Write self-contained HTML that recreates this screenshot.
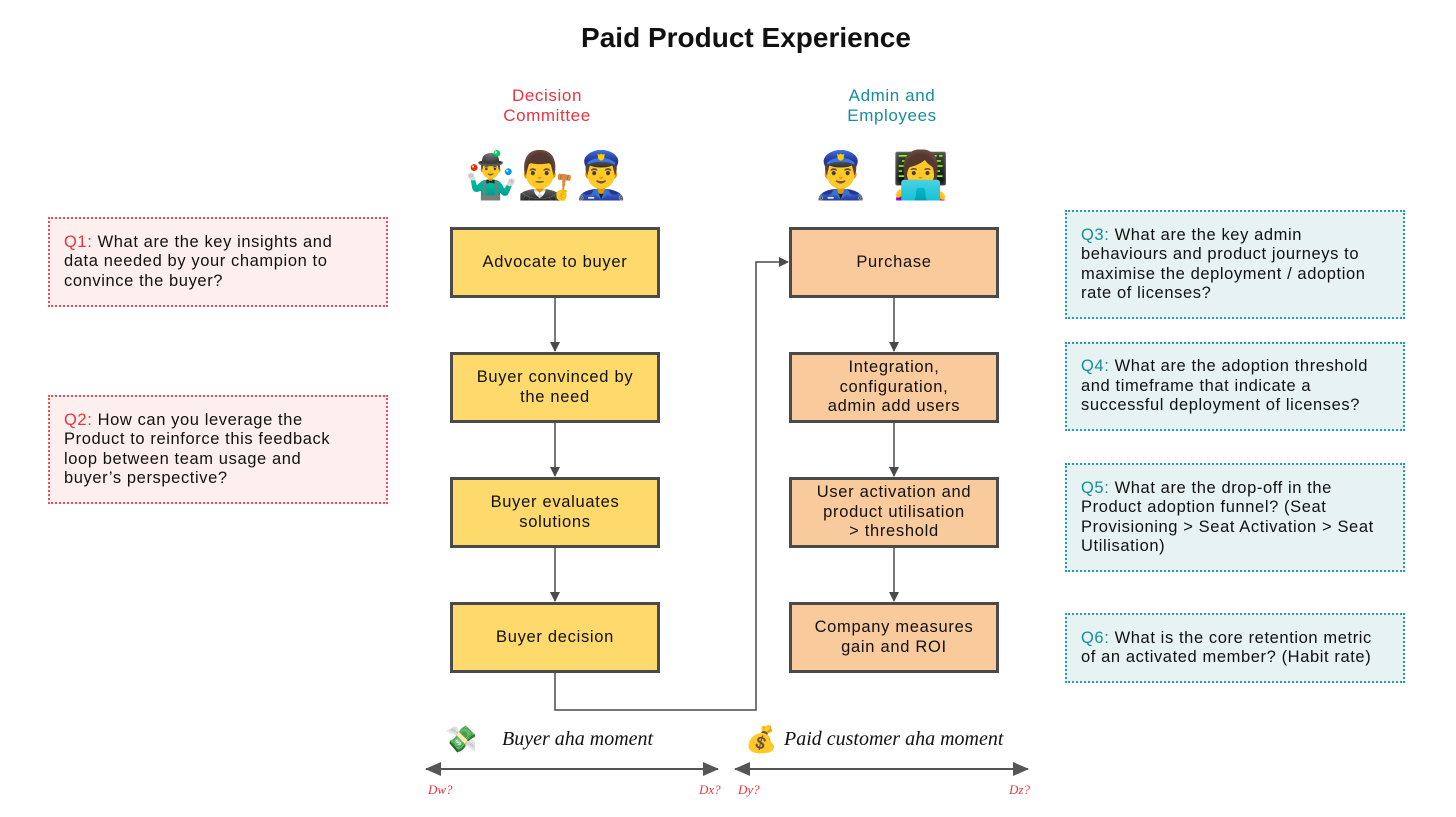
<!DOCTYPE html>
<html><head><meta charset="utf-8"><style>
body{margin:0;width:1456px;height:817px;background:#fff;position:relative;overflow:hidden;font-family:"Liberation Sans",sans-serif;color:#111}
.a{position:absolute}
.box{position:absolute;box-sizing:border-box;border:3px solid #4a4a4a;display:flex;align-items:center;justify-content:center;text-align:center;font-size:16.5px;letter-spacing:0.7px;line-height:19.5px}
.y{background:#fed96b;left:450px;width:210px;height:71px}
.p{background:#f9cb9c;left:789px;width:210px;height:71px}
.q{position:absolute;box-sizing:border-box;padding:0 14px;display:flex;flex-direction:column;justify-content:center;font-size:16.5px;letter-spacing:0.6px;line-height:19.5px;white-space:nowrap}
.ql{left:48px;width:340px;background:#fdefee;border:2px dotted #e8505b}
.qr{left:1065px;width:340px;background:#e7f2f3;border:2px dotted #2a9aa6}
.ql b{color:#e8343f;font-weight:normal}
.qr b{color:#168e9a;font-weight:normal}
.hand{font-family:"Liberation Serif",serif;font-style:italic}
.em{font-size:46px;line-height:46px}
</style></head><body>
<div class="a" style="left:0;width:1492px;top:22px;text-align:center;font-size:28px;font-weight:bold">Paid Product Experience</div>
<div class="a" style="left:447px;width:200px;top:86px;text-align:center;color:#e8343f;font-size:17px;letter-spacing:0.6px;line-height:19.5px">Decision<br>Committee</div>
<div class="a" style="left:792px;width:200px;top:86px;text-align:center;color:#168e9a;font-size:17px;letter-spacing:0.6px;line-height:19.5px">Admin and<br>Employees</div>
<div class="a em" style="left:462px;top:152px;letter-spacing:-2px">🤹‍♂️👨‍⚖️👮‍♂️</div>
<div class="a em" style="left:812px;top:152px">👮‍♂️</div>
<div class="a em" style="left:892px;top:152px">👩‍💻</div>

<div class="box y" style="top:227px">Advocate to buyer</div>
<div class="box y" style="top:352px">Buyer convinced by<br>the need</div>
<div class="box y" style="top:477px">Buyer evaluates<br>solutions</div>
<div class="box y" style="top:602px">Buyer decision</div>
<div class="box p" style="top:227px">Purchase</div>
<div class="box p" style="top:352px">Integration,<br>configuration,<br>admin add users</div>
<div class="box p" style="top:477px">User activation and<br>product utilisation<br>&gt; threshold</div>
<div class="box p" style="top:602px">Company measures<br>gain and ROI</div>

<svg class="a" style="left:0;top:0" width="1456" height="817">
<defs><marker id="m" markerWidth="10" markerHeight="10" refX="9" refY="5" orient="auto" markerUnits="userSpaceOnUse"><path d="M0,0L10,5L0,10z" fill="#4a4a4a"/></marker>
<marker id="b" markerWidth="16" markerHeight="14" refX="15" refY="7" orient="auto-start-reverse" markerUnits="userSpaceOnUse"><path d="M0,0L16,7L0,14z" fill="#555"/></marker></defs>
<g stroke="#4a4a4a" stroke-width="1.5" fill="none">
<line x1="555" y1="298" x2="555" y2="351" marker-end="url(#m)"/>
<line x1="555" y1="423" x2="555" y2="476" marker-end="url(#m)"/>
<line x1="555" y1="548" x2="555" y2="601" marker-end="url(#m)"/>
<line x1="894" y1="298" x2="894" y2="351" marker-end="url(#m)"/>
<line x1="894" y1="423" x2="894" y2="476" marker-end="url(#m)"/>
<line x1="894" y1="548" x2="894" y2="601" marker-end="url(#m)"/>
<polyline points="555,673 555,710 756,710 756,262 788,262" marker-end="url(#m)"/>
</g>
<g stroke="#555" stroke-width="2">
<line x1="426" y1="769" x2="718" y2="769" marker-start="url(#b)" marker-end="url(#b)"/>
<line x1="735" y1="769" x2="1028" y2="769" marker-start="url(#b)" marker-end="url(#b)"/>
</g>
</svg>
<div class="a" style="left:445px;top:724px;font-size:26px">💸</div>
<div class="a" style="left:745px;top:724px;font-size:26px">💰</div>
<div class="a hand" style="left:502px;top:728px;font-size:20px">Buyer aha moment</div>
<div class="a hand" style="left:784px;top:728px;font-size:20px">Paid customer aha moment</div>
<div class="a hand" style="left:428px;top:782px;font-size:13px;color:#e8343f">Dw?</div>
<div class="a hand" style="left:699px;top:782px;font-size:13px;color:#e8343f">Dx?</div>
<div class="a hand" style="left:738px;top:782px;font-size:13px;color:#e8343f">Dy?</div>
<div class="a hand" style="left:1009px;top:782px;font-size:13px;color:#e8343f">Dz?</div>

<div class="q ql" style="top:217px;height:90px"><div><b>Q1:</b> What are the key insights and<br>data needed by your champion to<br>convince the buyer?</div></div>
<div class="q ql" style="top:395px;height:109px"><div><b>Q2:</b> How can you leverage the<br>Product to reinforce this feedback<br>loop between team usage and<br>buyer’s perspective?</div></div>
<div class="q qr" style="top:210px;height:109px"><div><b>Q3:</b> What are the key admin<br>behaviours and product journeys to<br>maximise the deployment / adoption<br>rate of licenses?</div></div>
<div class="q qr" style="top:342px;height:89px"><div><b>Q4:</b> What are the adoption threshold<br>and timeframe that indicate a<br>successful deployment of licenses?</div></div>
<div class="q qr" style="top:463px;height:109px"><div><b>Q5:</b> What are the drop-off in the<br>Product adoption funnel? (Seat<br>Provisioning &gt; Seat Activation &gt; Seat<br>Utilisation)</div></div>
<div class="q qr" style="top:613px;height:70px"><div><b>Q6:</b> What is the core retention metric<br>of an activated member? (Habit rate)</div></div>
</body></html>
